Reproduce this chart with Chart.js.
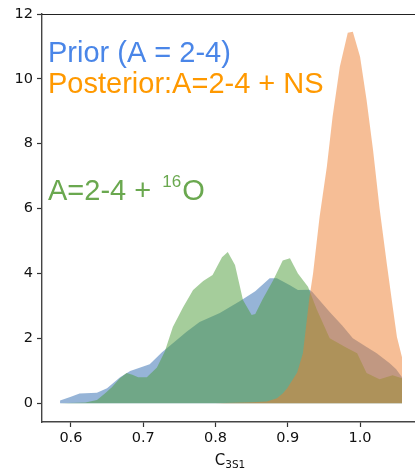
<!DOCTYPE html>
<html lang="fr">
<head>
<meta charset="utf-8">
<script src="https://cdn.jsdelivr.net/npm/chart.js@4.4.1/dist/chart.umd.min.js"></script>
<style>
    html, body { margin: 0; padding: 0; background: #ffffff; }
    #wrap { width: 415px; height: 469px; }
</style>
</head>
<body>
<div id="wrap"><canvas id="densityChart" width="415" height="469"></canvas></div>
<script>
// Densités (abscisse C3S1)
const priorX = [0.585, 0.600, 0.612, 0.636, 0.650, 0.668, 0.682, 0.709, 0.726, 0.741, 0.760, 0.778, 0.806, 0.834, 0.855, 0.875, 0.885, 0.903, 0.914, 0.930, 0.934, 0.958, 0.975, 0.990, 1.008, 1.023, 1.041, 1.050, 1.058];
const priorY = [0.08, 0.20, 0.30, 0.32, 0.46, 0.80, 0.99, 1.20, 1.57, 1.85, 2.20, 2.50, 2.78, 3.15, 3.45, 3.85, 3.85, 3.64, 3.49, 3.50, 3.43, 2.81, 2.40, 2.00, 1.75, 1.54, 1.23, 1.05, 0.80];

const oxygenX = [0.585, 0.620, 0.636, 0.647, 0.657, 0.667, 0.677, 0.685, 0.693, 0.705, 0.719, 0.730, 0.741, 0.755, 0.769, 0.783, 0.796, 0.809, 0.817, 0.827, 0.838, 0.850, 0.855, 0.865, 0.880, 0.893, 0.903, 0.914, 0.928, 0.940, 0.958, 0.982, 0.996, 1.009, 1.027, 1.045, 1.058];
const oxygenY = [0.00, 0.02, 0.10, 0.30, 0.50, 0.75, 0.93, 0.88, 0.80, 0.80, 1.10, 1.60, 2.35, 2.95, 3.49, 3.77, 3.95, 4.50, 4.66, 4.26, 3.18, 2.72, 2.75, 3.20, 3.80, 4.40, 4.47, 4.00, 3.59, 2.90, 2.00, 1.70, 1.54, 0.93, 0.74, 0.86, 0.77];

const posteriorX = [0.585, 0.800, 0.850, 0.871, 0.885, 0.893, 0.899, 0.906, 0.913, 0.921, 0.930, 0.935, 0.944, 0.954, 0.962, 0.972, 0.983, 0.990, 1.000, 1.009, 1.018, 1.027, 1.037, 1.045, 1.051, 1.058];
const posteriorY = [0.00, 0.00, 0.03, 0.05, 0.15, 0.30, 0.45, 0.70, 0.95, 1.55, 3.27, 4.00, 5.74, 7.28, 8.83, 10.37, 11.42, 11.45, 10.68, 9.35, 7.80, 6.00, 4.30, 3.00, 2.04, 1.42];

// Graduations et textes
const xTicks = [0.6, 0.7, 0.8, 0.9, 1.0];
const yTicks = [0, 2, 4, 6, 8, 10, 12];
const labelPrior = 'Prior (A = 2-4)';
const labelPosterior = 'Posterior:A=2-4 + NS';
const labelOxygen = ['A=2-4 + ', '16', 'O'];
const axisTitle = ['C', '3S1'];

/**
 * Construit les points {x, y} d'une série
 */
function toPoints(xs, ys) {
    return xs.map((x, i) => ({ x: x, y: ys[i] }));
}

/**
 * Série remplie jusqu'à zéro
 */
function areaDataset(xs, ys, color, order) {
    return {
        data: toPoints(xs, ys),
        backgroundColor: color,
        borderWidth: 0,
        pointRadius: 0,
        tension: 0,
        fill: 'origin',
        order: order
    };
}

// Textes, spine du haut et titre de l'axe
const annotationsPlugin = {
    id: 'annotations',
    afterDraw(chart) {
        const ctx = chart.ctx;
        const area = chart.chartArea;
        ctx.save();

        ctx.strokeStyle = '#222';
        ctx.lineWidth = 1.2;
        ctx.beginPath();
        ctx.moveTo(area.left, area.top + 0.5);
        ctx.lineTo(area.right, area.top + 0.5);
        ctx.stroke();

        const x0 = area.left + 6;
        ctx.textBaseline = 'alphabetic';
        ctx.textAlign = 'left';
        ctx.font = '29px "Liberation Sans", Arial, sans-serif';
        ctx.fillStyle = '#4a86e8';
        ctx.fillText(labelPrior, x0, 62);
        ctx.fillStyle = '#ff9900';
        ctx.fillText(labelPosterior, x0, 93);

        ctx.fillStyle = '#6aa84f';
        ctx.fillText(labelOxygen[0], x0, 200);
        let x = x0 + ctx.measureText(labelOxygen[0]).width + 3;
        ctx.font = '17px "Liberation Sans", Arial, sans-serif';
        ctx.fillText(labelOxygen[1], x, 187);
        x += ctx.measureText(labelOxygen[1]).width + 1;
        ctx.font = '29px "Liberation Sans", Arial, sans-serif';
        ctx.fillText(labelOxygen[2], x, 200);

        // Titre de l'axe x avec indice
        ctx.fillStyle = '#111';
        ctx.font = '15px "DejaVu Sans", sans-serif';
        const wMain = ctx.measureText(axisTitle[0]).width;
        ctx.font = '10.5px "DejaVu Sans", sans-serif';
        const wSub = ctx.measureText(axisTitle[1]).width;
        const cx = 230 - (wMain + wSub) / 2;
        ctx.font = '15px "DejaVu Sans", sans-serif';
        ctx.fillText(axisTitle[0], cx, 465);
        ctx.font = '10.5px "DejaVu Sans", sans-serif';
        ctx.fillText(axisTitle[1], cx + wMain, 468);

        ctx.restore();
    }
};

document.addEventListener('DOMContentLoaded', function() {
    const ctx = document.getElementById('densityChart').getContext('2d');

    const tickFont = { family: '"DejaVu Sans", sans-serif', size: 14.5 };

    new Chart(ctx, {
        type: 'line',
        data: {
            datasets: [
                areaDataset(posteriorX, posteriorY, 'rgba(237, 125, 45, 0.5)', 1),
                areaDataset(oxygenX, oxygenY, 'rgba(75, 155, 55, 0.5)', 2),
                areaDataset(priorX, priorY, 'rgba(45, 105, 175, 0.5)', 3)
            ]
        },
        options: {
            responsive: false,
            animation: false,
            devicePixelRatio: 1,
            layout: {
                autoPadding: false,
                padding: { left: 0, top: 14, right: 0, bottom: 0 }
            },
            plugins: {
                legend: { display: false },
                tooltip: { enabled: false },
                title: { display: false }
            },
            scales: {
                x: {
                    type: 'linear',
                    min: 0.56,
                    max: 1.076,
                    afterFit: scale => { scale.height = 47; },
                    afterBuildTicks: scale => {
                        scale.ticks = xTicks.map(v => ({ value: v }));
                    },
                    grid: {
                        drawOnChartArea: false,
                        drawTicks: true,
                        tickLength: 5,
                        tickWidth: 1.2,
                        tickColor: '#333'
                    },
                    border: { display: true, color: '#444', width: 1.4 },
                    ticks: {
                        font: tickFont,
                        color: '#111',
                        padding: 3,
                        maxRotation: 0,
                        callback: v => v.toFixed(1)
                    }
                },
                y: {
                    type: 'linear',
                    min: -0.58,
                    max: 12,
                    afterFit: scale => { scale.width = 42; },
                    afterBuildTicks: scale => {
                        scale.ticks = yTicks.map(v => ({ value: v }));
                    },
                    grid: {
                        drawOnChartArea: false,
                        drawTicks: true,
                        tickLength: 5,
                        tickWidth: 1.2,
                        tickColor: '#333'
                    },
                    border: { display: true, color: '#444', width: 1.4 },
                    ticks: {
                        font: tickFont,
                        color: '#111',
                        padding: 4,
                        callback: v => String(v)
                    }
                }
            }
        },
        plugins: [annotationsPlugin]
    });
});
</script>
</body>
</html>
